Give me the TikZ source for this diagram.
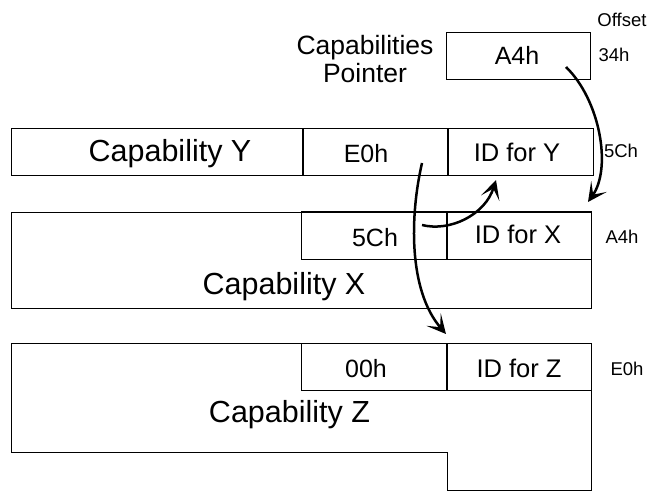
\documentclass[tikz,border=0pt]{standalone}
\usepackage{fontspec}
\setmainfont{Liberation Sans}
\usetikzlibrary{arrows.meta,positioning}
\tikzset{
  frame/.style  = {draw=black, line width=1pt},
  cell/.style   = {rectangle, frame, inner sep=0pt, minimum width=144.5pt,
                   minimum height=47.5pt},
  wcell/.style  = {cell, minimum width=291pt},
  txt/.style    = {anchor=base, inner sep=0pt},
  big/.style    = {txt, font=\fontsize{30.5}{34}\selectfont},
  hex/.style    = {txt, font=\fontsize{25}{29}\selectfont},
  idt/.style    = {txt, font=\fontsize{25.5}{29}\selectfont},
  off/.style    = {txt, font=\fontsize{18.5}{22}\selectfont},
  ptrlab/.style = {font=\fontsize{26.5}{28}\selectfont, align=center, inner sep=0pt},
  fl/.style     = {-{Stealth[length=19pt,width=19pt,inset=10pt]}, line width=2.5pt},
}
\begin{document}
\begin{tikzpicture}[x=1pt,y=-1pt]
  \useasboundingbox (0,0) rectangle (651,500);

  % ---- POINTER ----
  \node[cell] (ptr) at (518.5,56) {};
  \node[hex] (ptrval) at (517,65) {A4h};
  \node[ptrlab] (ptrlab) at (365,59) {Capabilities\\Pointer};
  \node[off] (offlab) at (622,27) {Offset};
  \node[off] (o34) at (614,62) {34h};

  % ---- CAPABILITY Y ----
  \node[wcell] (capY) at (156.5,152) {};
  \node[cell, right=0pt of capY] (nxtY) {};
  \node[cell, right=0pt of nxtY] (idY) {};
  \node[big] (capYlab) at (170,162) {Capability Y};
  \node[hex] (nxtYval) at (366,163) {E0h};
  \node[idt] (idYlab) at (517,162) {ID for Y};
  \node[off] (o5c) at (621,158) {5Ch};

  % ---- CAPABILITY X ----
  \draw[frame] (11,212) rectangle (591,308);
  \node[cell] (nxtX) at (374,235.5) {};
  \node[cell, right=0pt of nxtX] (idX) {};
  \node[hex] (nxtXval) at (375,247) {5Ch};
  \node[idt] (idXlab) at (518,243) {ID for X};
  \node[big] (capX) at (284,294) {Capability X};
  \node[off] (oa4) at (622,243) {A4h};

  % ---- CAPABILITY Z ----
  \draw[frame] (11,343) -- (591,343) -- (591,490) -- (447,490)
    -- (447,452) -- (11,452) -- cycle;
  \node[cell] (nxtZ) at (374,367) {};
  \node[cell, right=0pt of nxtZ] (idZ) {};
  \node[hex] (nxtZval) at (366,377) {00h};
  \node[idt] (idZlab) at (519,377) {ID for Z};
  \node[big] (capZ) at (289.5,422) {Capability Z};
  \node[off] (oe0) at (627,375) {E0h};

  % ---- POINTERS ----
  \coordinate (s1) at (566,67);
  \coordinate (t1) at (588,202);
  \coordinate (s2) at (422,225);
  \coordinate (t2) at (496,180);
  \coordinate (s3) at (422,163);
  \coordinate (t3) at (446,334);
  \draw[fl] (s1) .. controls (600,100) and (612,168) .. (t1);
  \draw[fl] (s2) .. controls (450,232) and (485,215) .. (t2);
  \draw[fl] (s3) .. controls (410,215) and (408,290) .. (t3);
\end{tikzpicture}
\end{document}
